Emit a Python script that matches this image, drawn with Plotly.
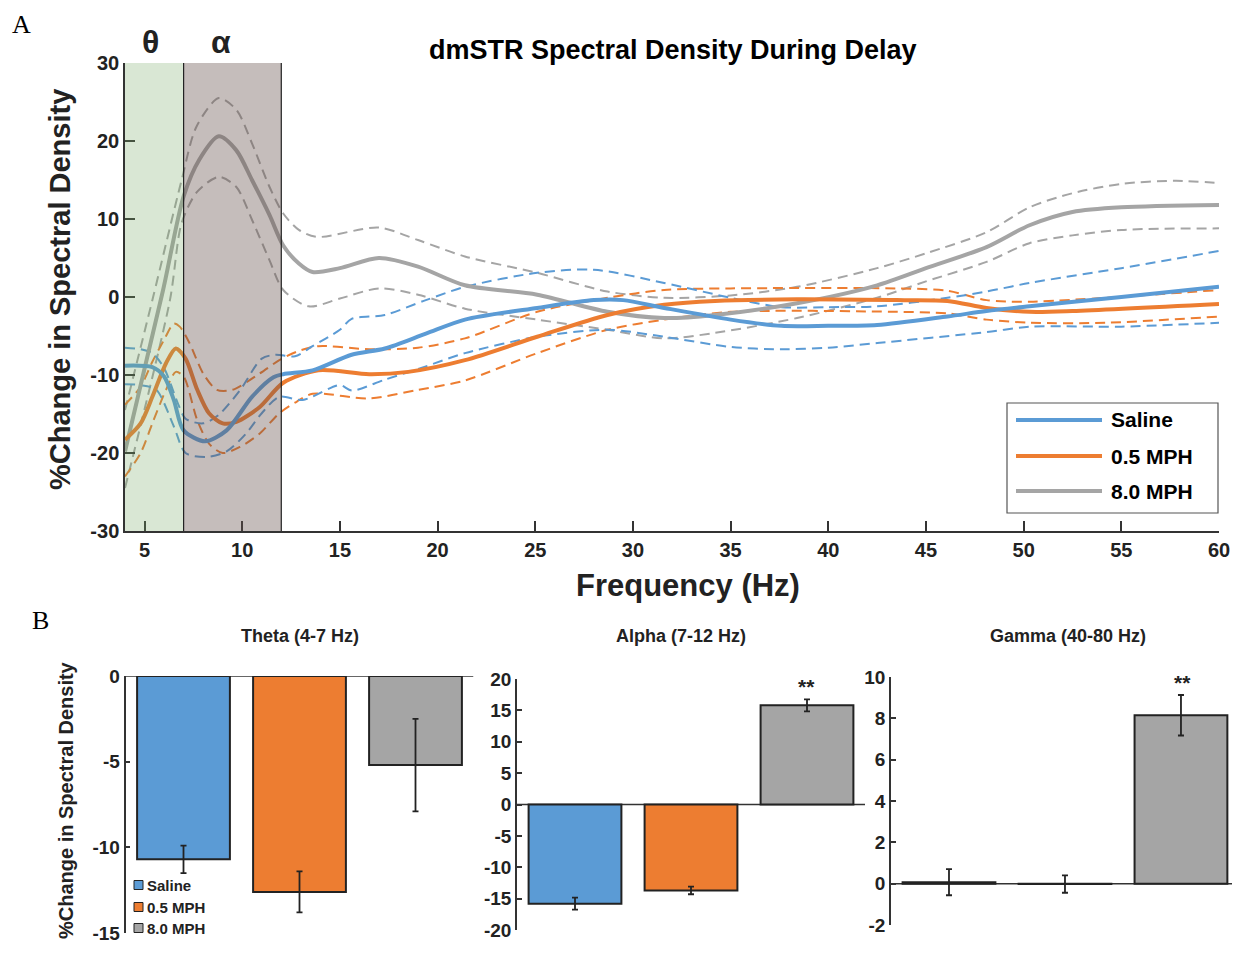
import plotly.graph_objects as go

# page is rendered with an 8px body margin; size the figure so the page fits the window
OFF = 8
W, H = 1224, 937


def X(p):
    return (p - OFF) / W


def Y(p):
    return 1 - (p - OFF) / H


# ---------------- Panel A data (frequency in Hz, % change) ----------------
saline_f = [4, 5.4, 6.0, 6.5, 7.0, 8.1, 9.2, 10.5, 11.6, 12.1, 13.6, 15.6, 17.3, 19.4, 21.4, 25.1,
            28.0, 29.5, 31.6, 35.0, 37.6, 40.0, 42.5, 46.1, 48.1, 50.3, 55.0, 60.0]
saline_mean = [-8.8, -9.0, -10.2, -13.2, -17.1, -18.5, -17.1, -12.8, -10.3, -9.9, -9.4, -7.4, -6.6, -4.7, -2.9, -1.4,
               -0.4, -0.4, -1.4, -2.9, -3.7, -3.7, -3.6, -2.5, -1.8, -1.2, 0.0, 1.3]
saline_up_f = [4, 4.8, 5.4, 6.0, 6.7, 7.1, 8.0, 8.8, 9.9, 11.0, 11.7, 12.7, 13.6, 15.0, 15.6, 17.3, 19.4,
               21.4, 25.1, 28.0, 31.6, 35.0, 37.6, 40.0, 42.5, 46.1, 48.1, 50.3, 55.0, 60.0]
saline_up = [-6.5, -6.7, -7.2, -9.1, -13.6, -15.6, -16.2, -15.1, -11.9, -7.9, -7.4, -7.6, -6.3, -4.2, -2.8, -2.3, -0.4,
             1.3, 3.1, 3.5, 1.8, -0.1, -1.3, -1.3, -1.2, -0.1, 0.7, 1.8, 3.7, 5.9]
saline_lo_f = [4, 4.8, 5.6, 6.5, 7.1, 8.2, 9.2, 10.2, 11.0, 11.9, 13.1, 15.0, 15.6, 17.3, 19.4, 21.4,
               25.1, 28.7, 31.6, 35.0, 37.6, 40.0, 42.5, 48.1, 50.3, 55.0, 60.0]
saline_lo = [-11.2, -11.3, -11.9, -16.6, -20.0, -20.5, -19.8, -17.5, -14.9, -12.8, -13.2, -11.3, -12.0, -10.6, -8.9, -7.2,
             -5.1, -4.2, -5.1, -6.4, -6.7, -6.5, -5.9, -4.5, -3.8, -3.8, -3.3]

mph05_f = [4, 4.8, 5.4, 6.1, 6.6, 7.1, 7.7, 8.3, 9.0, 9.7, 10.9, 12.1, 13.9, 16.5, 18.5, 21.4, 25.1,
           28.7, 31.6, 34.2, 38.4, 43.5, 46.1, 48.1, 50.3, 52.5, 60.0]
mph05_mean = [-18.3, -16.2, -12.8, -8.5, -6.6, -7.9, -11.9, -14.9, -16.2, -16.0, -14.1, -11.0, -9.4, -9.9, -9.6, -8.1, -5.1,
              -2.3, -1.0, -0.5, -0.3, -0.4, -0.5, -1.4, -1.9, -1.8, -0.9]
mph05_up_f = [4, 4.8, 5.4, 6.0, 6.5, 6.8, 7.3, 8.0, 8.7, 9.5, 10.9, 11.9, 12.8, 13.9, 16.5, 19.0, 21.4,
              25.1, 28.7, 31.6, 35.0, 43.5, 46.1, 48.1, 50.3, 60.0]
mph05_up = [-13.8, -11.5, -8.3, -5.5, -3.4, -3.8, -5.9, -9.8, -11.9, -11.9, -9.8, -8.1, -7.0, -6.3, -6.7, -6.5, -5.3,
            -1.9, -0.1, 0.9, 1.1, 1.1, 0.8, -0.4, -0.6, 0.9]
mph05_lo_f = [4, 4.8, 5.4, 6.1, 6.6, 7.0, 7.7, 8.3, 9.0, 9.9, 10.9, 11.9, 12.8, 13.6, 16.5, 19.0, 21.4,
              25.1, 28.7, 31.6, 35.0, 43.5, 46.1, 48.1, 50.3, 54.2, 60.0]
mph05_lo = [-23.0, -20.0, -16.2, -11.9, -9.6, -10.2, -15.8, -18.8, -20.0, -19.2, -17.5, -14.9, -13.4, -12.4, -13.0, -11.9,
            -10.7, -7.2, -4.2, -2.9, -1.9, -1.9, -2.1, -2.9, -3.3, -3.3, -2.5]

mph8_f = [4, 5.95, 7.0, 7.8, 8.8, 9.7, 10.5, 11.4, 12.1, 12.9, 13.6, 15.0, 17.0, 19.0, 21.4, 25.1,
          28.7, 31.6, 34.2, 38.4, 42.5, 45.0, 48.1, 50.3, 52.5, 55.0, 60.0]
mph8_mean = [-19.8, 0.9, 12.9, 17.6, 20.6, 18.8, 15.0, 10.5, 6.6, 4.3, 3.2, 3.7, 5.0, 3.9, 1.5, 0.3,
             -1.9, -2.7, -2.3, -0.8, 1.5, 3.7, 6.4, 9.2, 10.9, 11.5, 11.8]
mph8_up_f = [4, 5.44, 6.9, 7.65, 8.8, 9.7, 10.5, 11.4, 12.1, 12.9, 13.8, 17.0, 19.0, 21.4, 25.1, 28.7,
             31.6, 35.0, 38.4, 42.5, 45.0, 48.1, 50.3, 52.5, 55.0, 57.8, 60.0]
mph8_up = [-14.5, 0.0, 15.0, 21.8, 25.5, 24.0, 19.7, 14.1, 10.7, 8.6, 7.7, 8.9, 7.3, 5.2, 3.1, 0.7,
           -0.1, 0.2, 1.3, 3.7, 5.6, 8.3, 11.5, 13.3, 14.5, 14.9, 14.6]
mph8_lo_f = [4, 6.3, 6.9, 7.7, 8.8, 9.7, 10.5, 11.4, 12.1, 13.4, 15.0, 17.0, 19.0, 21.4, 25.1, 28.7,
             31.6, 34.2, 38.4, 42.5, 45.0, 48.1, 50.3, 52.5, 55.0, 60.0]
mph8_lo = [-24.5, -0.4, 9.5, 13.5, 15.4, 14.1, 9.9, 4.7, 0.9, -1.2, -0.2, 1.1, 0.3, -1.5, -2.9, -4.2,
           -5.3, -4.6, -2.7, -0.1, 2.0, 4.5, 6.9, 7.9, 8.6, 8.8]

x_ticks = [5, 10, 15, 20, 25, 30, 35, 40, 45, 50, 55, 60]
y_ticks = [-30, -20, -10, 0, 10, 20, 30]
bands = [("θ", 4, 7), ("α", 7, 12)]

# ---------------- Panel B data ----------------
groups = ["Saline", "0.5 MPH", "8.0 MPH"]
theta_vals = [-10.7, -12.6, -5.2]
theta_err = [0.8, 1.2, 2.7]
alpha_vals = [-15.8, -13.7, 15.8]
alpha_err = [0.95, 0.6, 0.95]
gamma_vals = [0.07, -0.02, 8.15]
gamma_err = [0.63, 0.42, 0.98]
theta_ticks = [0, -5, -10, -15]
alpha_ticks = [-20, -15, -10, -5, 0, 5, 10, 15, 20]
gamma_ticks = [-2, 0, 2, 4, 6, 8, 10]
panel_titles = ["Theta (4-7 Hz)", "Alpha (7-12 Hz)", "Gamma (40-80 Hz)"]

BLUE, ORANGE, GRAY = "#5b9bd5", "#ed7d31", "#a5a5a5"
colors = [BLUE, ORANGE, GRAY]
FONT = "Liberation Sans, Arial, sans-serif"
SERIF = "Liberation Serif, Times New Roman, serif"
NARROW = "Liberation Sans Narrow, Arial Narrow, Liberation Sans, sans-serif"
INK = "#222222"


def labels(vals):
    return [str(v) for v in vals]  # plain hyphen minus like the original


fig = go.Figure()

series = [
    (mph8_f, mph8_mean, mph8_up_f, mph8_up, mph8_lo_f, mph8_lo, GRAY),
    (mph05_f, mph05_mean, mph05_up_f, mph05_up, mph05_lo_f, mph05_lo, ORANGE),
    (saline_f, saline_mean, saline_up_f, saline_up, saline_lo_f, saline_lo, BLUE),
]
for s in series:
    for fx, fy in [(s[2], s[3]), (s[4], s[5])]:
        fig.add_trace(go.Scatter(x=fx, y=fy, mode="lines", showlegend=False, hoverinfo="skip",
                                 line=dict(color=s[6], width=2, dash="10px,6px", shape="spline", smoothing=0.8),
                                 xaxis="x", yaxis="y"))
for s in series:
    fig.add_trace(go.Scatter(x=s[0], y=s[1], mode="lines", showlegend=False,
                             line=dict(color=s[6], width=4, shape="spline", smoothing=0.8),
                             xaxis="x", yaxis="y"))

# bar panels
bar_sets = [(theta_vals, theta_err, "x2", "y2"), (alpha_vals, alpha_err, "x3", "y3"),
            (gamma_vals, gamma_err, "x4", "y4")]
for vals, errs, xa, ya in bar_sets:
    fig.add_trace(go.Bar(x=[1, 2, 3], y=vals, width=0.8, showlegend=False,
                         marker=dict(color=colors, line=dict(color=INK, width=2)),
                         error_y=dict(type="data", array=errs, visible=True, color=INK, thickness=1.8, width=3),
                         xaxis=xa, yaxis=ya))

axis_common = dict(showline=True, linecolor="#333333", linewidth=1.5, ticks="inside",
                   tickcolor="#333333", tickwidth=1.5, showgrid=False, zeroline=False,
                   ticklabeloverflow="allow")
top_font = dict(family=FONT, size=20, color=INK, weight="bold")
bot_font = dict(family=FONT, size=19, color=INK, weight="bold")

fig.update_layout(
    width=W, height=H, margin=dict(l=0, r=0, t=0, b=0, autoexpand=False),
    paper_bgcolor="white", plot_bgcolor="rgba(0,0,0,0)", showlegend=False,
    xaxis=dict(domain=[X(125), X(1219)], range=[4, 60], tickvals=x_ticks, ticktext=labels(x_ticks),
               ticklen=10, anchor="y", tickfont=top_font, **axis_common),
    yaxis=dict(domain=[Y(531), Y(63)], range=[-30, 30], tickvals=y_ticks, ticktext=labels(y_ticks),
               ticklen=10, anchor="x", tickfont=top_font, **axis_common),
    xaxis2=dict(domain=[X(125.5), X(473.5)], range=[0.5, 3.5], visible=False, anchor="y2"),
    yaxis2=dict(domain=[Y(933), Y(676)], range=[-15, 0], tickvals=theta_ticks, ticktext=labels(theta_ticks),
                ticklen=5, anchor="x2", tickfont=bot_font, **axis_common),
    xaxis3=dict(domain=[X(517), X(865)], range=[0.5, 3.5], visible=False, anchor="y3"),
    yaxis3=dict(domain=[Y(930), Y(679)], range=[-20, 20], tickvals=alpha_ticks, ticktext=labels(alpha_ticks),
                ticklen=5, anchor="x3", tickfont=bot_font, **axis_common),
    xaxis4=dict(domain=[X(891), X(1232)], range=[0.5, 3.44], visible=False, anchor="y4"),
    yaxis4=dict(domain=[Y(925), Y(677)], range=[-2, 10], tickvals=gamma_ticks, ticktext=labels(gamma_ticks),
                ticklen=5, anchor="x4", tickfont=bot_font, **axis_common),
)

shapes = []
# band shading (overlay, semi-transparent like the original)
shapes.append(dict(type="rect", xref="x", yref="y", x0=bands[0][1], x1=bands[0][2], y0=-30, y1=30,
                   fillcolor="rgb(120,170,100)", opacity=0.28, line=dict(width=0), layer="above"))
shapes.append(dict(type="rect", xref="x", yref="y", x0=bands[1][1], x1=bands[1][2], y0=-30, y1=30,
                   fillcolor="rgb(102,81,76)", opacity=0.38, line=dict(width=0), layer="above"))
for xv in [7, 12]:
    shapes.append(dict(type="line", xref="x", yref="y", x0=xv, x1=xv, y0=-30, y1=30,
                       line=dict(color="#222222", width=1.2), layer="above"))
# zero lines for bar panels
for xa, ya, x1 in [("x2", "y2", 3.5), ("x3", "y3", 3.5), ("x4", "y4", 3.44)]:
    shapes.append(dict(type="line", xref=xa, yref=ya, x0=0.5, x1=x1, y0=0, y1=0,
                       line=dict(color="#333333", width=1.5), layer="below"))

# Panel A legend (box + line samples)
shapes.append(dict(type="rect", xref="paper", yref="paper", x0=X(1007), x1=X(1218), y0=Y(513), y1=Y(403),
                   line=dict(color="#555555", width=1.2), fillcolor="white", layer="above"))
legend_y = [420, 456, 491]
for yy, c in zip(legend_y, colors):
    shapes.append(dict(type="line", xref="paper", yref="paper", x0=X(1016), x1=X(1102), y0=Y(yy), y1=Y(yy),
                       line=dict(color=c, width=4), layer="above"))
# Panel B legend squares
small_y = [885, 907, 928]
for yy, c in zip(small_y, colors):
    shapes.append(dict(type="rect", xref="paper", yref="paper", x0=X(134), x1=X(143), y0=Y(yy + 4.5),
                       y1=Y(yy - 4.5), fillcolor=c, line=dict(color=INK, width=1), layer="above"))
fig.update_layout(shapes=shapes)

ann = []


def txt(x, y, text, size, family=FONT, bold=True, angle=0, xanchor="center", color=INK):
    ann.append(dict(x=X(x), y=Y(y), xref="paper", yref="paper", text=text, showarrow=False,
                    xanchor=xanchor, yanchor="middle", textangle=angle,
                    font=dict(family=family, size=size, color=color, weight="bold" if bold else "normal")))


txt(22, 25, "A", 26, family=SERIF, bold=False, color="black")
txt(40, 620, "B", 26, family=SERIF, bold=False, color="black")
txt(150, 42, bands[0][0], 32)
txt(221, 42, bands[1][0], 32)
txt(673, 50, "dmSTR Spectral Density During Delay", 27, color="black")
txt(60, 290, "%Change in Spectral Density", 29, angle=-90)
txt(688, 585, "Frequency (Hz)", 31)
for yy, g in zip(legend_y, groups):
    txt(1109, yy, g, 21, xanchor="left", color="black")
for xx, t in zip([300, 681, 1068], panel_titles):
    txt(xx, 636, t, 18, family=NARROW)
txt(66, 800, "%Change in Spectral Density", 20, angle=-90)
for yy, g in zip(small_y, groups):
    txt(145, yy, g, 15, xanchor="left")
txt(806, 686, "**", 21)
txt(1182, 682, "**", 21)
fig.update_layout(annotations=ann)

fig.write_html("out.html")
